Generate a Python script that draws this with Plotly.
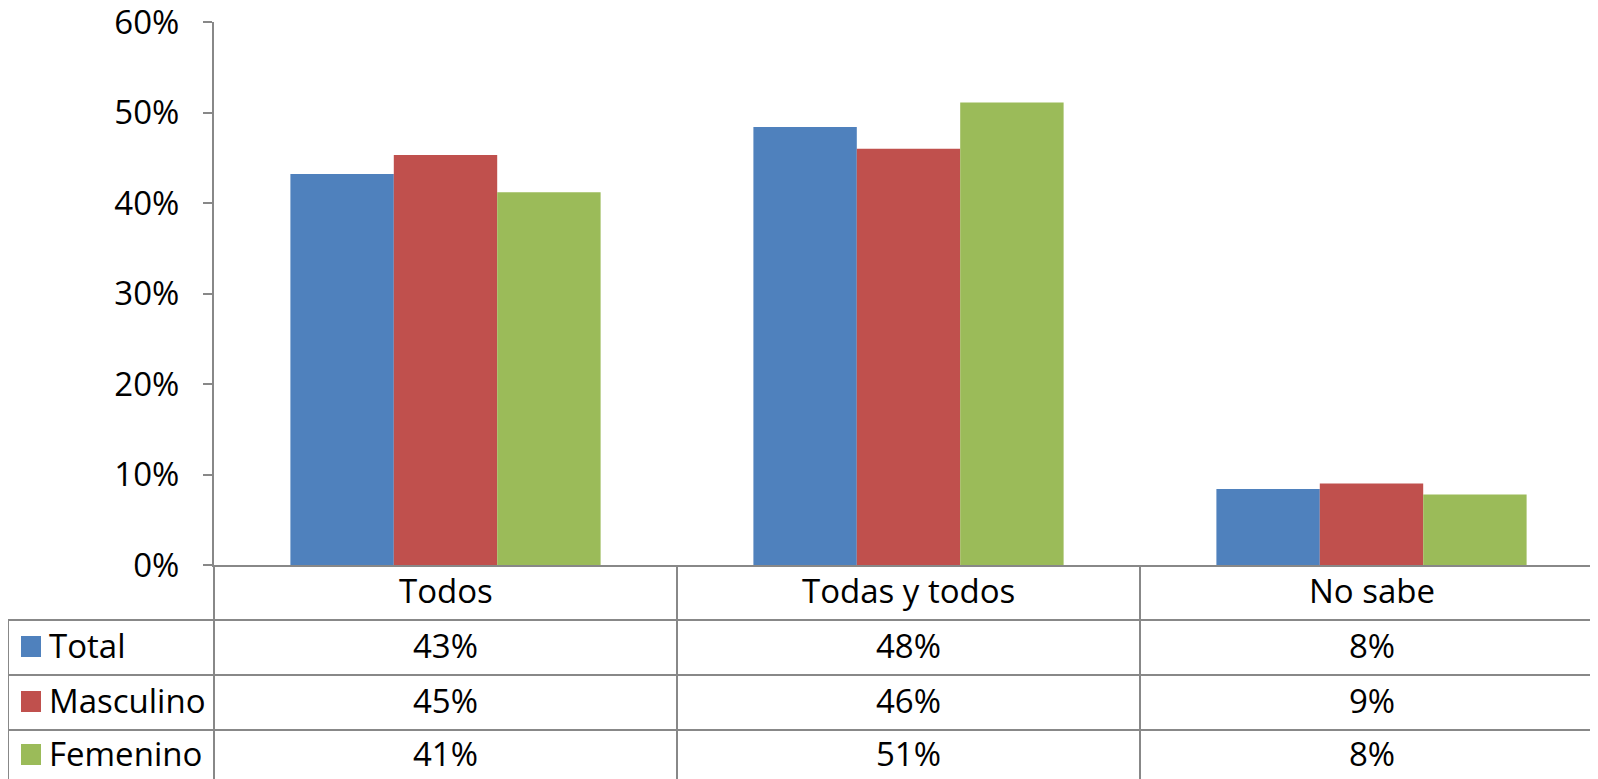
import plotly.graph_objects as go

categories = ["Todos", "Todas y todos", "No sabe"]
series_names = ["Total", "Masculino", "Femenino"]
total = [0.432, 0.484, 0.084]
masculino = [0.453, 0.460, 0.090]
femenino = [0.412, 0.511, 0.078]
colors = ["#4F81BD", "#C0504D", "#9BBB59"]
y_ticks = [0, 0.1, 0.2, 0.3, 0.4, 0.5, 0.6]
y_tick_labels = ["0%", "10%", "20%", "30%", "40%", "50%", "60%"]

OFF = 8  # browser body margin
W, H = 1598 - OFF, 779 - OFF
S_L, S_T, S_BOT = 214, 22, 565
L, T = S_L - OFF, S_T - OFF
B = H - (S_BOT - OFF)
plot_w = W - L
plot_h = H - T - B
GRID = "#888888"
FONT = "Open Sans"
FS = 33
CAT_W = 463.0  # screen width of a category column
x_end = -0.5 + plot_w / CAT_W


def px_x(s):
    return (s - S_L) / plot_w


def px_y(s):
    return (S_BOT - s) / plot_h


fig = go.Figure()
all_series = [total, masculino, femenino]
for name, vals, col in zip(series_names, all_series, colors):
    fig.add_trace(go.Bar(x=categories, y=vals, name=name, marker_color=col,
                         marker_line_width=0))

shapes = []
line = dict(color=GRID, width=2)
row_y = [565, 620, 675, 730, 790]
for yy in row_y[1:4]:
    shapes.append(dict(type="line", xref="paper", yref="paper",
                       x0=px_x(8), x1=1, y0=px_y(yy), y1=px_y(yy), line=line))
shapes.append(dict(type="line", xref="paper", yref="paper",
                   x0=0, x1=0, y0=px_y(565), y1=px_y(790), line=line))
for i in range(1, len(categories)):
    shapes.append(dict(type="line", xref="x", yref="paper",
                       x0=i - 0.5, x1=i - 0.5, y0=px_y(565), y1=px_y(790), line=line))
shapes.append(dict(type="line", xref="paper", yref="paper",
                   x0=px_x(8), x1=px_x(8), y0=px_y(620), y1=px_y(790), line=line))

annotations = []
cat_center = (row_y[0] + row_y[1]) / 2 - 2
for c in categories:
    annotations.append(dict(x=c, xref="x", y=px_y(cat_center), yref="paper",
                            text=c, showarrow=False, xanchor="center", yanchor="middle",
                            font=dict(family=FONT, size=FS, color="black")))
row_centers = [645, 700, 753]
for r, (name, vals, col) in enumerate(zip(series_names, all_series, colors)):
    yc = row_centers[r]
    for c, v in zip(categories, vals):
        annotations.append(dict(x=c, xref="x", y=px_y(yc), yref="paper",
                                text=f"{round(v * 100)}%", showarrow=False,
                                xanchor="center", yanchor="middle",
                                font=dict(family=FONT, size=FS, color="black")))
    annotations.append(dict(x=px_x(47), xref="paper", y=px_y(yc), yref="paper",
                            text=name, showarrow=False, xanchor="left", yanchor="middle",
                            font=dict(family=FONT, size=FS, color="black")))
    shapes.append(dict(type="rect", xref="paper", yref="paper",
                       x0=px_x(21), x1=px_x(41), y0=px_y(yc - 9), y1=px_y(yc + 12),
                       fillcolor=col, line=dict(width=0)))

fig.update_layout(
    width=W, height=H,
    margin=dict(l=L, r=0, t=T, b=B, pad=0),
    paper_bgcolor="white", plot_bgcolor="white",
    barmode="group", bargap=0.33, bargroupgap=0,
    showlegend=False,
    shapes=shapes, annotations=annotations,
    font=dict(family=FONT, size=FS, color="black"),
    xaxis=dict(range=[-0.5, x_end], showticklabels=False, ticks="", showline=True,
               linecolor=GRID, linewidth=2, showgrid=False, zeroline=False, fixedrange=True),
    yaxis=dict(range=[0, 0.6], tickvals=y_ticks, ticktext=y_tick_labels,
               ticks="outside", ticklen=9, tickwidth=2, tickcolor=GRID,
               showline=True, linecolor=GRID, linewidth=2, showgrid=False,
               zeroline=False, ticklabelstandoff=17, ticklabeloverflow="allow",
               automargin=False,
               tickfont=dict(family=FONT, size=FS, color="black")),
)

fig.write_html("out.html")
